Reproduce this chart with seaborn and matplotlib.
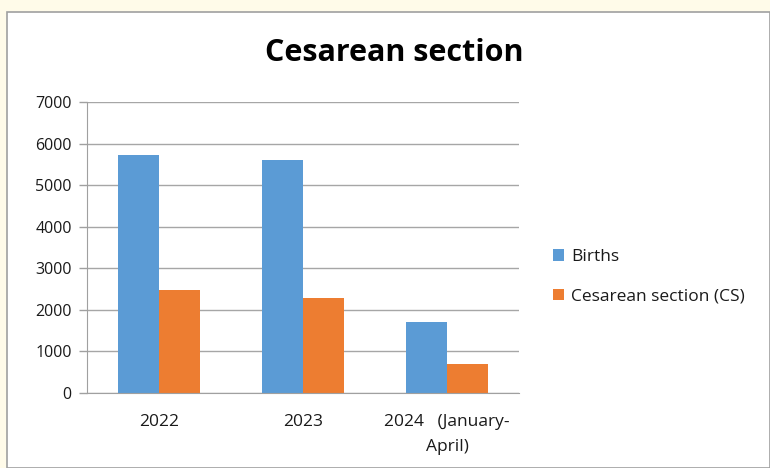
import matplotlib
matplotlib.use("Agg")
import matplotlib.pyplot as plt
import seaborn as sns
import pandas as pd
from matplotlib.patches import Rectangle

categories = ["2022", "2023", "2024   (January-\nApril)"]
series = ["Births", "Cesarean section (CS)"]
births = [5720, 5600, 1710]
cs = [2480, 2290, 700]
yticks = [0, 1000, 2000, 3000, 4000, 5000, 6000, 7000]

df = pd.DataFrame({
    "year": categories * 2,
    "value": births + cs,
    "series": [series[0]] * 3 + [series[1]] * 3,
})

sns.set_style("white")
plt.rcParams["font.family"] = ["Open Sans", "DejaVu Sans"]
plt.rcParams["text.color"] = "#1a1a1a"
plt.rcParams["xtick.color"] = "#1a1a1a"
plt.rcParams["ytick.color"] = "#1a1a1a"

fig = plt.figure(figsize=(7.7, 4.68), dpi=100)
fig.patch.set_facecolor("#fffbe9")
# white chart area with border
fig.add_artist(Rectangle((7/770, 0), 1 - 7/770, 1 - 12/468, transform=fig.transFigure,
                         facecolor="white", edgecolor="#a0a0a0", linewidth=1.2,
                         zorder=-10))

ax = fig.add_axes([87/770, 1 - 393/468, (519 - 87)/770, (393 - 102)/468])
sns.barplot(data=df, x="year", y="value", hue="series",
            palette=["#5b9bd5", "#ed7d31"], width=0.57, saturation=1,
            linewidth=0, ax=ax, legend=True)
ax.set_facecolor("white")
ax.set_ylim(0, 7000)
ax.set_yticks(yticks)
ax.set_yticklabels([str(v) for v in yticks], fontsize=11.5)
ax.set_xlabel("")
ax.set_ylabel("")
ax.tick_params(axis="x", length=0, labelsize=12.5, pad=15)
ax.tick_params(axis="y", length=6, color="#a0a0a0", labelcolor="#1a1a1a",
               width=1, pad=5, left=True)
for lab in ax.get_xticklabels():
    lab.set_multialignment("center")
    lab.set_linespacing(1.75)
ax.yaxis.grid(True, color="#a6a6a6", linewidth=1)
ax.set_axisbelow(True)
for s in ["top", "right"]:
    ax.spines[s].set_visible(False)
ax.spines["left"].set_color("#a0a0a0")
ax.spines["bottom"].set_color("#a0a0a0")

h, l = ax.get_legend_handles_labels()
ax.legend(h, l, loc="center left", bbox_to_anchor=(537/770, 1 - 277/468),
          bbox_transform=fig.transFigure, frameon=False, fontsize=12.5,
          handlelength=0.65, handleheight=0.65, handletextpad=0.4, labelspacing=1.35)

fig.text(394/770, 1 - 53/468, "Cesarean section", ha="center", va="center",
         fontsize=22, fontweight="bold", color="black")

fig.savefig("out.png", dpi=100, facecolor=fig.get_facecolor())
